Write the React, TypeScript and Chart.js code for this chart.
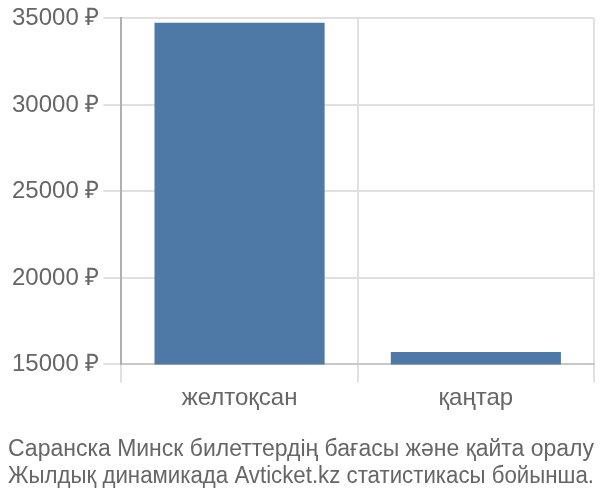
import React, { useEffect, useRef } from 'react';
import Chart from 'chart.js/auto';

const months = ['желтоқсан', 'қаңтар'];
const prices = [34750, 15710];
const yTicks = [15000, 20000, 25000, 30000, 35000];
const titleLines = [
  'Саранска Минск билеттердің бағасы және қайта оралу',
  'Жылдық динамикада Avticket.kz статистикасы бойынша.',
];

const FONT = '"Liberation Sans", Arial, sans-serif';

const App: React.FC = () => {
  const canvasRef = useRef<HTMLCanvasElement>(null);

  useEffect(() => {
    document.body.style.margin = '0';
    if (!canvasRef.current) return;
    const chart = new Chart(canvasRef.current, {
      type: 'bar',
      data: {
        labels: months,
        datasets: [{
          data: prices,
          backgroundColor: '#4e79a7',
          borderWidth: 0,
        }],
      },
      options: {
        animation: false,
        responsive: false,
        layout: { padding: { top: 4, right: 6, left: 8 } },
        scales: {
          x: {
            grid: { color: '#e0e0e0', lineWidth: 2, tickLength: 18, offset: true },
            border: { color: '#c8c8c8', width: 2 },
            ticks: { color: '#666', font: { family: FONT, size: 24 }, padding: 2 },
          },
          y: {
            min: yTicks[0],
            max: yTicks[yTicks.length - 1],
            afterBuildTicks: (axis) => { axis.ticks = yTicks.map(v => ({ value: v })); },
            grid: { color: '#e0e0e0', lineWidth: 2, tickLength: 18 },
            border: { color: '#b0b0b0', width: 2 },
            ticks: {
              color: '#666',
              font: { family: FONT, size: 24 },
              padding: 4,
              callback: (v) => `${v} ₽`,
            },
          },
        },
        plugins: {
          legend: { display: false },
          tooltip: { enabled: false },
          title: {
            display: true,
            position: 'bottom',
            text: titleLines,
            color: '#666',
            font: { family: FONT, size: 23, weight: 'normal', lineHeight: 1.17 },
            padding: { top: 21, bottom: 10 },
          },
        },
      },
    });
    return () => chart.destroy();
  }, []);

  return <canvas ref={canvasRef} width={600} height={500} style={{ display: 'block' }} />;
};

export default App;
